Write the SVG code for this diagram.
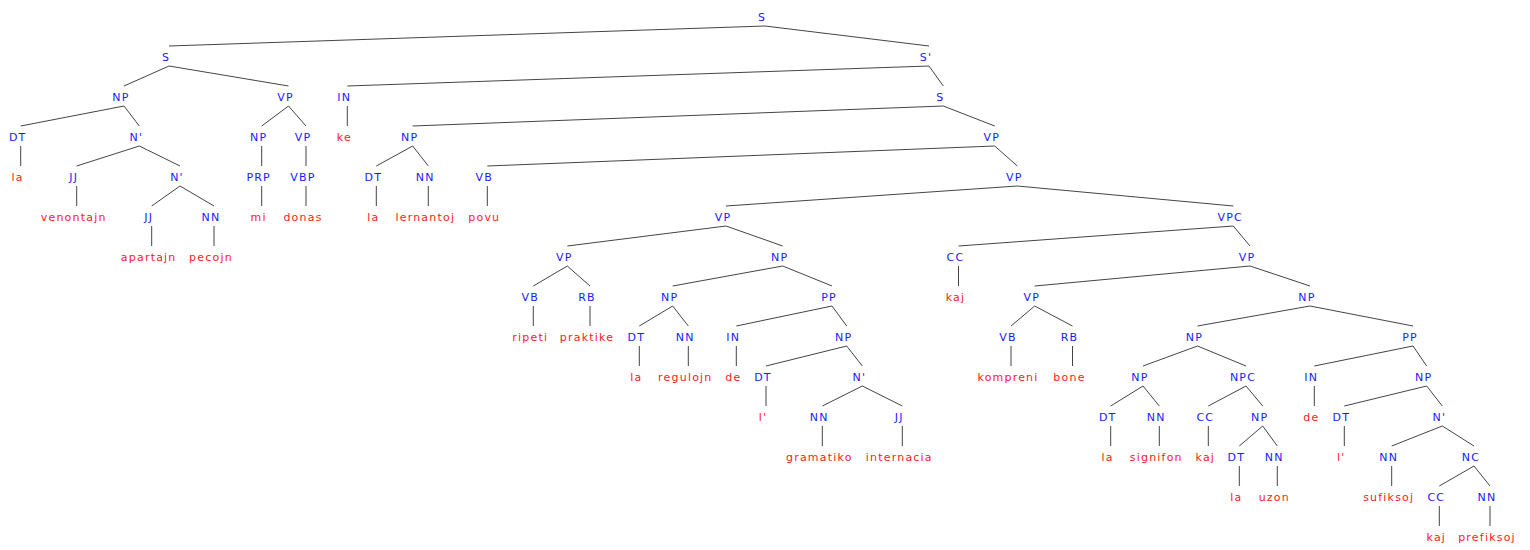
<svg xmlns="http://www.w3.org/2000/svg" width="1530" height="550" viewBox="0 0 1530 550">
<style>
text{font-family:"DejaVu Sans","Liberation Sans",sans-serif;font-size:11px;letter-spacing:1.2px;text-anchor:middle}
.c{fill:#1a1aff}
.w{fill:#ff1a1a}
#edges line{stroke:#444;stroke-width:1}
</style>
<rect width="1530" height="550" fill="#fff"/>
<g id="edges">
<line x1="765" y1="26" x2="169" y2="46"/><line x1="765" y1="26" x2="929" y2="46"/>
<line x1="169" y1="66" x2="124" y2="86"/><line x1="169" y1="66" x2="288.5" y2="86"/><line x1="929" y1="66" x2="347.3" y2="86"/><line x1="929" y1="66" x2="943.3" y2="86"/>
<line x1="124" y1="106" x2="20.7" y2="126"/><line x1="124" y1="106" x2="139.3" y2="126"/><line x1="288.5" y1="106" x2="261.7" y2="126"/><line x1="288.5" y1="106" x2="306" y2="126"/><line x1="347.3" y1="106" x2="347.3" y2="126"/><line x1="943.3" y1="106" x2="412.7" y2="126"/><line x1="943.3" y1="106" x2="994.7" y2="126"/>
<line x1="20.7" y1="146" x2="20.7" y2="166"/><line x1="139.3" y1="146" x2="76.7" y2="166"/><line x1="139.3" y1="146" x2="180" y2="166"/><line x1="261.7" y1="146" x2="261.7" y2="166"/><line x1="306" y1="146" x2="306" y2="166"/><line x1="412.7" y1="146" x2="376.3" y2="166"/><line x1="412.7" y1="146" x2="428.3" y2="166"/><line x1="994.7" y1="146" x2="487.3" y2="166"/><line x1="994.7" y1="146" x2="1017.3" y2="166"/>
<line x1="76.7" y1="186" x2="76.7" y2="206"/><line x1="180" y1="186" x2="151.7" y2="206"/><line x1="180" y1="186" x2="214" y2="206"/><line x1="261.7" y1="186" x2="261.7" y2="206"/><line x1="306" y1="186" x2="306" y2="206"/><line x1="376.3" y1="186" x2="376.3" y2="206"/><line x1="428.3" y1="186" x2="428.3" y2="206"/><line x1="487.3" y1="186" x2="487.3" y2="206"/><line x1="1017.3" y1="186" x2="726" y2="206"/><line x1="1017.3" y1="186" x2="1233.3" y2="206"/>
<line x1="151.7" y1="226" x2="151.7" y2="246"/><line x1="214" y1="226" x2="214" y2="246"/><line x1="726" y1="226" x2="567.3" y2="246"/><line x1="726" y1="226" x2="782.7" y2="246"/><line x1="1233.3" y1="226" x2="958.5" y2="246"/><line x1="1233.3" y1="226" x2="1250" y2="246"/>
<line x1="567.3" y1="266" x2="533.3" y2="286"/><line x1="567.3" y1="266" x2="590" y2="286"/><line x1="782.7" y1="266" x2="672.7" y2="286"/><line x1="782.7" y1="266" x2="832" y2="286"/><line x1="958.5" y1="266" x2="958.5" y2="286"/><line x1="1250" y1="266" x2="1034.7" y2="286"/><line x1="1250" y1="266" x2="1310" y2="286"/>
<line x1="533.3" y1="306" x2="533.3" y2="326"/><line x1="590" y1="306" x2="590" y2="326"/><line x1="672.7" y1="306" x2="639.3" y2="326"/><line x1="672.7" y1="306" x2="688.3" y2="326"/><line x1="832" y1="306" x2="736.3" y2="326"/><line x1="832" y1="306" x2="846.7" y2="326"/><line x1="1034.7" y1="306" x2="1011" y2="326"/><line x1="1034.7" y1="306" x2="1072.5" y2="326"/><line x1="1310" y1="306" x2="1197.5" y2="326"/><line x1="1310" y1="306" x2="1413" y2="326"/>
<line x1="639.3" y1="346" x2="639.3" y2="366"/><line x1="688.3" y1="346" x2="688.3" y2="366"/><line x1="736.3" y1="346" x2="736.3" y2="366"/><line x1="846.7" y1="346" x2="766" y2="366"/><line x1="846.7" y1="346" x2="862.3" y2="366"/><line x1="1011" y1="346" x2="1011" y2="366"/><line x1="1072.5" y1="346" x2="1072.5" y2="366"/><line x1="1197.5" y1="346" x2="1143" y2="366"/><line x1="1197.5" y1="346" x2="1246" y2="366"/><line x1="1413" y1="346" x2="1314.3" y2="366"/><line x1="1413" y1="346" x2="1426.7" y2="366"/>
<line x1="766" y1="386" x2="766" y2="406"/><line x1="862.3" y1="386" x2="822.3" y2="406"/><line x1="862.3" y1="386" x2="902.3" y2="406"/><line x1="1143" y1="386" x2="1110.7" y2="406"/><line x1="1143" y1="386" x2="1159.3" y2="406"/><line x1="1246" y1="386" x2="1208.3" y2="406"/><line x1="1246" y1="386" x2="1262.7" y2="406"/><line x1="1314.3" y1="386" x2="1314.3" y2="406"/><line x1="1426.7" y1="386" x2="1344.3" y2="406"/><line x1="1426.7" y1="386" x2="1442.3" y2="406"/>
<line x1="822.3" y1="426" x2="822.3" y2="446"/><line x1="902.3" y1="426" x2="902.3" y2="446"/><line x1="1110.7" y1="426" x2="1110.7" y2="446"/><line x1="1159.3" y1="426" x2="1159.3" y2="446"/><line x1="1208.3" y1="426" x2="1208.3" y2="446"/><line x1="1262.7" y1="426" x2="1239.3" y2="446"/><line x1="1262.7" y1="426" x2="1277.3" y2="446"/><line x1="1344.3" y1="426" x2="1344.3" y2="446"/><line x1="1442.3" y1="426" x2="1391.7" y2="446"/><line x1="1442.3" y1="426" x2="1474" y2="446"/>
<line x1="1239.3" y1="466" x2="1239.3" y2="486"/><line x1="1277.3" y1="466" x2="1277.3" y2="486"/><line x1="1391.7" y1="466" x2="1391.7" y2="486"/><line x1="1474" y1="466" x2="1439.3" y2="486"/><line x1="1474" y1="466" x2="1490" y2="486"/>
<line x1="1439.3" y1="506" x2="1439.3" y2="526"/><line x1="1490" y1="506" x2="1490" y2="526"/>
</g>
<g id="n0"><text class="c" x="762" y="20.5">S</text></g>
<g id="n1"><text class="c" x="166" y="60.5">S</text></g>
<g id="n2"><text class="c" x="926" y="60.5">S'</text></g>
<g id="n3"><text class="c" x="121" y="100.5">NP</text></g>
<g id="n4"><text class="c" x="285.5" y="100.5">VP</text></g>
<g id="n5"><text class="c" x="17.7" y="140.5">DT</text></g>
<g id="n6"><text class="c" x="136.3" y="140.5">N'</text></g>
<g id="n7"><text class="w" x="17.7" y="180.5">la</text></g>
<g id="n8"><text class="c" x="73.7" y="180.5">JJ</text></g>
<g id="n9"><text class="c" x="177" y="180.5">N'</text></g>
<g id="n10"><text class="w" x="73.7" y="220.5">venontajn</text></g>
<g id="n11"><text class="c" x="148.7" y="220.5">JJ</text></g>
<g id="n12"><text class="c" x="211" y="220.5">NN</text></g>
<g id="n13"><text class="w" x="148.7" y="260.5">apartajn</text></g>
<g id="n14"><text class="w" x="211" y="260.5">pecojn</text></g>
<g id="n15"><text class="c" x="258.7" y="140.5">NP</text></g>
<g id="n16"><text class="c" x="303" y="140.5">VP</text></g>
<g id="n17"><text class="c" x="258.7" y="180.5">PRP</text></g>
<g id="n18"><text class="w" x="258.7" y="220.5">mi</text></g>
<g id="n19"><text class="c" x="303" y="180.5">VBP</text></g>
<g id="n20"><text class="w" x="303" y="220.5">donas</text></g>
<g id="n21"><text class="c" x="344.3" y="100.5">IN</text></g>
<g id="n22"><text class="c" x="940.3" y="100.5">S</text></g>
<g id="n23"><text class="w" x="344.3" y="140.5">ke</text></g>
<g id="n24"><text class="c" x="409.7" y="140.5">NP</text></g>
<g id="n25"><text class="c" x="991.7" y="140.5">VP</text></g>
<g id="n26"><text class="c" x="373.3" y="180.5">DT</text></g>
<g id="n27"><text class="c" x="425.3" y="180.5">NN</text></g>
<g id="n28"><text class="w" x="373.3" y="220.5">la</text></g>
<g id="n29"><text class="w" x="425.3" y="220.5">lernantoj</text></g>
<g id="n30"><text class="c" x="484.3" y="180.5">VB</text></g>
<g id="n31"><text class="c" x="1014.3" y="180.5">VP</text></g>
<g id="n32"><text class="w" x="484.3" y="220.5">povu</text></g>
<g id="n33"><text class="c" x="723" y="220.5">VP</text></g>
<g id="n34"><text class="c" x="1230.3" y="220.5">VPC</text></g>
<g id="n35"><text class="c" x="564.3" y="260.5">VP</text></g>
<g id="n36"><text class="c" x="779.7" y="260.5">NP</text></g>
<g id="n37"><text class="c" x="530.3" y="300.5">VB</text></g>
<g id="n38"><text class="c" x="587" y="300.5">RB</text></g>
<g id="n39"><text class="w" x="530.3" y="340.5">ripeti</text></g>
<g id="n40"><text class="w" x="587" y="340.5">praktike</text></g>
<g id="n41"><text class="c" x="669.7" y="300.5">NP</text></g>
<g id="n42"><text class="c" x="829" y="300.5">PP</text></g>
<g id="n43"><text class="c" x="636.3" y="340.5">DT</text></g>
<g id="n44"><text class="c" x="685.3" y="340.5">NN</text></g>
<g id="n45"><text class="w" x="636.3" y="380.5">la</text></g>
<g id="n46"><text class="w" x="685.3" y="380.5">regulojn</text></g>
<g id="n47"><text class="c" x="733.3" y="340.5">IN</text></g>
<g id="n48"><text class="c" x="843.7" y="340.5">NP</text></g>
<g id="n49"><text class="w" x="733.3" y="380.5">de</text></g>
<g id="n50"><text class="c" x="763" y="380.5">DT</text></g>
<g id="n51"><text class="c" x="859.3" y="380.5">N'</text></g>
<g id="n52"><text class="w" x="763" y="420.5">l'</text></g>
<g id="n53"><text class="c" x="819.3" y="420.5">NN</text></g>
<g id="n54"><text class="c" x="899.3" y="420.5">JJ</text></g>
<g id="n55"><text class="w" x="819.3" y="460.5">gramatiko</text></g>
<g id="n56"><text class="w" x="899.3" y="460.5">internacia</text></g>
<g id="n57"><text class="c" x="955.5" y="260.5">CC</text></g>
<g id="n58"><text class="c" x="1247" y="260.5">VP</text></g>
<g id="n59"><text class="w" x="955.5" y="300.5">kaj</text></g>
<g id="n60"><text class="c" x="1031.7" y="300.5">VP</text></g>
<g id="n61"><text class="c" x="1307" y="300.5">NP</text></g>
<g id="n62"><text class="c" x="1008" y="340.5">VB</text></g>
<g id="n63"><text class="c" x="1069.5" y="340.5">RB</text></g>
<g id="n64"><text class="w" x="1008" y="380.5">kompreni</text></g>
<g id="n65"><text class="w" x="1069.5" y="380.5">bone</text></g>
<g id="n66"><text class="c" x="1194.5" y="340.5">NP</text></g>
<g id="n67"><text class="c" x="1410" y="340.5">PP</text></g>
<g id="n68"><text class="c" x="1140" y="380.5">NP</text></g>
<g id="n69"><text class="c" x="1243" y="380.5">NPC</text></g>
<g id="n70"><text class="c" x="1107.7" y="420.5">DT</text></g>
<g id="n71"><text class="c" x="1156.3" y="420.5">NN</text></g>
<g id="n72"><text class="w" x="1107.7" y="460.5">la</text></g>
<g id="n73"><text class="w" x="1156.3" y="460.5">signifon</text></g>
<g id="n74"><text class="c" x="1205.3" y="420.5">CC</text></g>
<g id="n75"><text class="c" x="1259.7" y="420.5">NP</text></g>
<g id="n76"><text class="w" x="1205.3" y="460.5">kaj</text></g>
<g id="n77"><text class="c" x="1236.3" y="460.5">DT</text></g>
<g id="n78"><text class="c" x="1274.3" y="460.5">NN</text></g>
<g id="n79"><text class="w" x="1236.3" y="500.5">la</text></g>
<g id="n80"><text class="w" x="1274.3" y="500.5">uzon</text></g>
<g id="n81"><text class="c" x="1311.3" y="380.5">IN</text></g>
<g id="n82"><text class="c" x="1423.7" y="380.5">NP</text></g>
<g id="n83"><text class="w" x="1311.3" y="420.5">de</text></g>
<g id="n84"><text class="c" x="1341.3" y="420.5">DT</text></g>
<g id="n85"><text class="c" x="1439.3" y="420.5">N'</text></g>
<g id="n86"><text class="w" x="1341.3" y="460.5">l'</text></g>
<g id="n87"><text class="c" x="1388.7" y="460.5">NN</text></g>
<g id="n88"><text class="c" x="1471" y="460.5">NC</text></g>
<g id="n89"><text class="w" x="1388.7" y="500.5">sufiksoj</text></g>
<g id="n90"><text class="c" x="1436.3" y="500.5">CC</text></g>
<g id="n91"><text class="c" x="1487" y="500.5">NN</text></g>
<g id="n92"><text class="w" x="1436.3" y="540.5">kaj</text></g>
<g id="n93"><text class="w" x="1487" y="540.5">prefiksoj</text></g>
</svg>
